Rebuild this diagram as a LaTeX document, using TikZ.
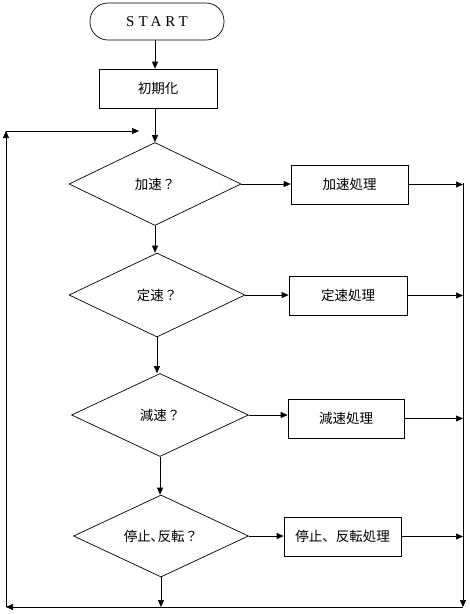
\documentclass[tikz,border=0pt]{standalone}
\usepackage{fontspec}
\newfontfamily\jpfont{Noto Sans CJK JP}
\newfontfamily\startfont[LetterSpace=27]{Liberation Serif}
\usetikzlibrary{shapes.geometric,arrows.meta}

\tikzset{
  arr/.style={-{Triangle[length=7pt,width=6pt]}},
  jp/.style={font=\jpfont\fontsize{13.5}{14}\selectfont},
  procbox/.style={draw, jp, minimum width=117pt, minimum height=39pt, inner sep=0pt},
  decbox/.style={draw, diamond, jp, aspect=2.1, minimum width=175pt, minimum height=83pt, inner sep=0pt}
}

\begin{document}
\begin{tikzpicture}[x=1pt, y=-1pt, line width=0.7pt]
\useasboundingbox (0,0) rectangle (470,614);

\node[draw, rounded corners=18pt, minimum width=134pt, minimum height=37pt, inner sep=0pt,
      font=\startfont\fontsize{15}{15}\selectfont] (start) at (157,21.5) {START};
\node[procbox, minimum width=118pt] (init) at (158,88.5) {初期化};

\node[decbox, minimum width=172pt] (d1) at (155,184) {加速？};
\node[decbox, minimum width=176pt, minimum height=84pt] (d2) at (157,295) {定速？};
\node[decbox, minimum width=177pt] (d3) at (160,415) {減速？};
\node[decbox, minimum height=82pt] (d4) at (161,536) {停止､反転？};

\node[procbox] (p1) at (349.5,184.5) {加速処理};
\node[procbox, minimum width=118pt] (p2) at (348,295.5) {定速処理};
\node[procbox, minimum width=116pt] (p3) at (346,418.5) {減速処理};
\node[procbox] (p4) at (342.5,536.5) {停止、反転処理};

% loop corners
\coordinate (rt) at (463,183);
\coordinate (br) at (463,607);
\coordinate (bl) at (6,607);
\coordinate (tl) at (6,131);
\coordinate (back) at (139,131);

\draw[arr] (start.south -| d1.north) -- (init.north -| d1.north);
\draw[arr] (init.south -| d1.north) -- (d1.north);
\draw[arr] (d1.south) -- (d1.south |- d2.north);
\draw[arr] (d2.south) -- (d2.south |- d3.north);
\draw[arr] (d3.south) -- (d3.south |- d4.north);
\draw[arr] (d4.south) -- (d4.south |- br);

\foreach \d/\p in {d1/p1, d2/p2, d3/p3, d4/p4}{
   \draw[arr] (\d.east) -- (\d.east -| \p.west);
   \draw[arr] (\p.east) -- (\p.east -| rt);
}

\draw[arr] (rt) -- (br);
\draw[arr] (br) -- (bl);
\draw[arr] (bl) -- (tl);
\draw[arr] (tl) -- (back);
\end{tikzpicture}
\end{document}
